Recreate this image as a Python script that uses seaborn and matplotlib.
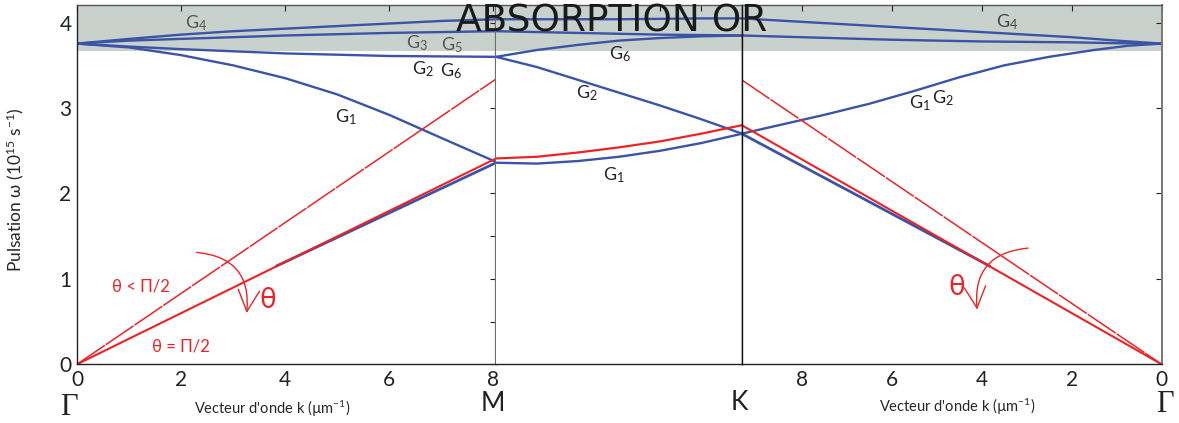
import matplotlib
matplotlib.use("Agg")
import matplotlib.pyplot as plt
import seaborn as sns
import pandas as pd


# ------------------------------------------------------------------ #
# Data (omega in 1e15 s^-1, k in um^-1)
# ------------------------------------------------------------------ #

# Gamma -> M
gm_k_top   = [0, 1, 2, 3, 4, 5, 6, 7, 8.05]
gm_g4      = [3.755, 3.81, 3.86, 3.90, 3.93, 3.96, 3.99, 4.02, 4.04]
gm_k_up    = [0, 1, 2, 3, 4, 5, 6, 7, 8.05]
gm_g35     = [3.755, 3.79, 3.81, 3.83, 3.85, 3.865, 3.88, 3.89, 3.90]
gm_g26     = [3.755, 3.72, 3.69, 3.665, 3.64, 3.625, 3.61, 3.605, 3.60]
gm_k_g1    = [0, 1, 2, 3, 4, 5, 6, 7, 8.05]
gm_g1      = [3.755, 3.71, 3.62, 3.50, 3.35, 3.16, 2.92, 2.65, 2.37]
gm_k_low   = [3.83, 8.05]
gm_low     = [1.15, 2.36]
gm_k_light = [0, 8.05]
gm_perp    = [0, 2.41]      # theta = pi/2
gm_obl     = [0, 3.34]      # theta < pi/2

# M -> K (path parameter, no labels)
mk_u       = [0, 1, 2, 3, 4, 5, 6]
mk_top     = [4.04, 4.04, 4.04, 4.04, 4.045, 4.05, 4.05]
mk_g35     = [3.90, 3.89, 3.88, 3.87, 3.86, 3.855, 3.85]
mk_g6      = [3.60, 3.68, 3.74, 3.79, 3.82, 3.84, 3.85]
mk_g2      = [3.60, 3.48, 3.33, 3.18, 3.03, 2.87, 2.70]
mk_g1      = [2.36, 2.35, 2.38, 2.43, 2.50, 2.59, 2.70]
mk_red     = [2.41, 2.43, 2.48, 2.54, 2.61, 2.70, 2.80]

# K -> Gamma
kg_k       = [9.33, 8, 6, 4, 2, 1, 0]
kg_g4      = [4.05, 4.01, 3.95, 3.89, 3.83, 3.79, 3.755]
kg_g35     = [3.85, 3.83, 3.80, 3.78, 3.77, 3.76, 3.755]
kg_k_g12   = [9.33, 8.5, 7.5, 6.5, 5.5, 4.5, 3.5, 2.5, 1.5, 0.75, 0]
kg_g12     = [2.70, 2.80, 2.92, 3.05, 3.20, 3.36, 3.50, 3.60, 3.68, 3.73, 3.755]
kg_k_low   = [9.33, 3.82]
kg_low     = [2.70, 1.15]
kg_k_light = [9.33, 0]
kg_perp    = [2.80, 0]
kg_obl     = [3.33, 0]

# label positions (data coords of each panel)
left_labels  = [("G$_4$", 2.29, 3.99, "#555555"), ("G$_3$", 6.54, 3.76, "#555555"),
                ("G$_5$", 7.20, 3.74, "#555555"), ("G$_2$", 6.65, 3.45, "#222222"),
                ("G$_6$", 7.19, 3.43, "#222222"), ("G$_1$", 5.17, 2.89, "#222222")]
mid_labels   = [("G$_6$", 3.02, 3.63), ("G$_2$", 2.22, 3.17), ("G$_1$", 2.88, 2.22)]
right_labels = [("G$_1$", 5.37, 3.06), ("G$_2$", 4.86, 3.12), ("G$_4$", 3.44, 4.01)]

BLUE = "#3b54a5"
RED  = "#ec2227"
BAND = "#c9d1cd"
YMAX = 4.21

sns.set_theme(style="white")
plt.rcParams["font.family"] = ["Lato", "DejaVu Sans"]
plt.rcParams["mathtext.fontset"] = "custom"
plt.rcParams["mathtext.rm"] = "Lato"
plt.rcParams["mathtext.default"] = "regular"

fig = plt.figure(figsize=(11.79, 4.23), dpi=100)
bot, hgt = 0.1388, 0.850
ax_l = fig.add_axes([0.0653, bot, 0.3554, hgt])
ax_m = fig.add_axes([0.4207, bot, 0.2084, hgt])
ax_r = fig.add_axes([0.6291, bot, 0.3562, hgt])


def draw(ax, k, w, color=BLUE, lw=1.7, ls="-"):
    df = pd.DataFrame({"k": k, "w": w})
    sns.lineplot(data=df, x="k", y="w", ax=ax, color=color, lw=lw,
                 linestyle=ls, sort=False, estimator=None)


for ax in (ax_l, ax_m, ax_r):
    ax.axhspan(3.67, YMAX, color=BAND, zorder=0, lw=0)

# ---- Gamma -> M ----
draw(ax_l, gm_k_top, gm_g4)
draw(ax_l, gm_k_up, gm_g35)
draw(ax_l, gm_k_up, gm_g26)
draw(ax_l, gm_k_g1, gm_g1)
draw(ax_l, gm_k_low, gm_low, lw=2.0)
draw(ax_l, gm_k_light, gm_obl, color=RED, lw=1.1, ls=(0, (22, 0.8)))
draw(ax_l, gm_k_light, gm_perp, color=RED, lw=1.5)

# ---- M -> K ----
draw(ax_m, mk_u, mk_top)
draw(ax_m, mk_u, mk_g35)
draw(ax_m, mk_u, mk_g6)
draw(ax_m, mk_u, mk_g2)
draw(ax_m, mk_u, mk_g1)
draw(ax_m, mk_u, mk_red, color=RED, lw=1.6)

# ---- K -> Gamma ----
draw(ax_r, kg_k, kg_g4)
draw(ax_r, kg_k, kg_g35)
draw(ax_r, kg_k_g12, kg_g12)
draw(ax_r, kg_k_low, kg_low, lw=2.0)
draw(ax_r, kg_k_light, kg_obl, color=RED, lw=1.1, ls=(0, (22, 0.8)))
draw(ax_r, kg_k_light, kg_perp, color=RED, lw=1.5)

# ---- axes cosmetics ----
for ax in (ax_l, ax_m, ax_r):
    ax.set_ylim(0, YMAX)
    ax.set_xlabel("")
    ax.set_ylabel("")

ax_l.set_xlim(0, 8.05)
ax_m.set_xlim(0, 5.99)
ax_r.set_xlim(9.33, 0)

ax_l.set_xticks([0, 2, 4, 6, 8])
ax_l.set_yticks([0, 1, 2, 3, 4])
ax_l.set_yticks([0.5, 1.5], minor=True)
ax_l.tick_params(which="major", direction="in", length=4, width=0.8, top=True,
                 right=True, labelsize=15, pad=4, colors="#222222")
ax_l.tick_params(which="minor", direction="in", length=4, width=0.8,
                 left=False, right=True)

ax_m.set_xticks([1, 2, 3, 4, 5])
ax_m.set_yticks([])
ax_m.tick_params(direction="in", length=4, width=0.8, top=True,
                 labelbottom=False, colors="#222222")

ax_r.set_xticks([8, 6, 4, 2, 0])
ax_r.set_yticks([1, 2, 3, 4])
ax_r.tick_params(direction="in", length=4, width=0.8, top=True, right=True,
                 labelleft=False, labelsize=15, pad=4, colors="#222222")

for ax in (ax_l, ax_m, ax_r):
    for side in ("left", "right", "top", "bottom"):
        ax.spines[side].set_visible(True)
        ax.spines[side].set_linewidth(1.0)
        ax.spines[side].set_color("#222222")
    ax.spines["top"].set_color("#555555")
ax_l.spines["right"].set_color("#6e6e6e")
ax_l.spines["right"].set_linewidth(1.6)
ax_m.spines["left"].set_visible(False)
ax_m.spines["right"].set_color("#111111")
ax_r.spines["left"].set_color("#111111")
ax_r.spines["right"].set_color("#777777")
ax_r.spines["right"].set_linewidth(1.4)

# axis labels
ax_l.set_ylabel("Pulsation ω (10$^{15}$ s$^{-1}$)", fontsize=12.5)
ax_l.yaxis.set_label_coords(-0.122, 0.485)
ax_l.set_xlabel("Vecteur d'onde k (µm$^{-1}$)", fontsize=10.5)
ax_l.xaxis.set_label_coords(0.465, -0.097)
ax_r.set_xlabel("Vecteur d'onde k (µm$^{-1}$)", fontsize=10.5)
ax_r.xaxis.set_label_coords(0.513, -0.090)

# high-symmetry points
serif = ["Liberation Serif", "DejaVu Serif"]
ax_l.text(-0.019, -0.121, "Γ", transform=ax_l.transAxes, ha="center",
          va="center", fontsize=22, family=serif, color="#222222")
ax_r.text(1.008, -0.113, "Γ", transform=ax_r.transAxes, ha="center",
          va="center", fontsize=22, family=serif, color="#222222")
ax_l.text(0.993, -0.110, "M", transform=ax_l.transAxes, ha="center",
          va="center", fontsize=19, color="#222222")
ax_m.text(0.989, -0.105, "K", transform=ax_m.transAxes, ha="center",
          va="center", fontsize=19, color="#222222")

# band labels
for txt, x, y, c in left_labels:
    ax_l.text(x, y, txt, ha="center", va="center", fontsize=13, color=c)
for txt, x, y in mid_labels:
    ax_m.text(x, y, txt, ha="center", va="center", fontsize=13, color="#222222")
for txt, x, y in right_labels:
    c = "#444444" if txt == "G$_4$" else "#222222"
    ax_r.text(x, y, txt, ha="center", va="center", fontsize=13, color=c)

# angle annotations
ax_l.text(1.23, 0.91, "θ < Π/2", ha="center", va="center", fontsize=12, color=RED)
ax_l.text(2.00, 0.21, "θ = Π/2", ha="center", va="center", fontsize=12, color=RED)
ax_l.text(3.67, 0.75, "θ", ha="center", va="center", fontsize=20, color=RED)
ax_r.text(4.55, 0.91, "θ", ha="center", va="center", fontsize=20, color=RED)

arrow = dict(arrowstyle="->,head_length=0.7,head_width=0.35", color=RED,
             lw=1.0, mutation_scale=22, shrinkA=0, shrinkB=0)
ax_l.annotate("", xy=(3.26, 0.60), xytext=(2.30, 1.31),
              arrowprops=dict(arrow, connectionstyle="arc3,rad=-0.5"))
ax_r.annotate("", xy=(4.10, 0.64), xytext=(2.97, 1.36),
              arrowprops=dict(arrow, connectionstyle="arc3,rad=0.5"))

fig.text(0.519, 0.925, "ABSORPTION OR", ha="center", va="baseline",
         fontsize=27, family="DejaVu Sans", color="#1a1a1a")

fig.savefig("out.png", dpi=100)
